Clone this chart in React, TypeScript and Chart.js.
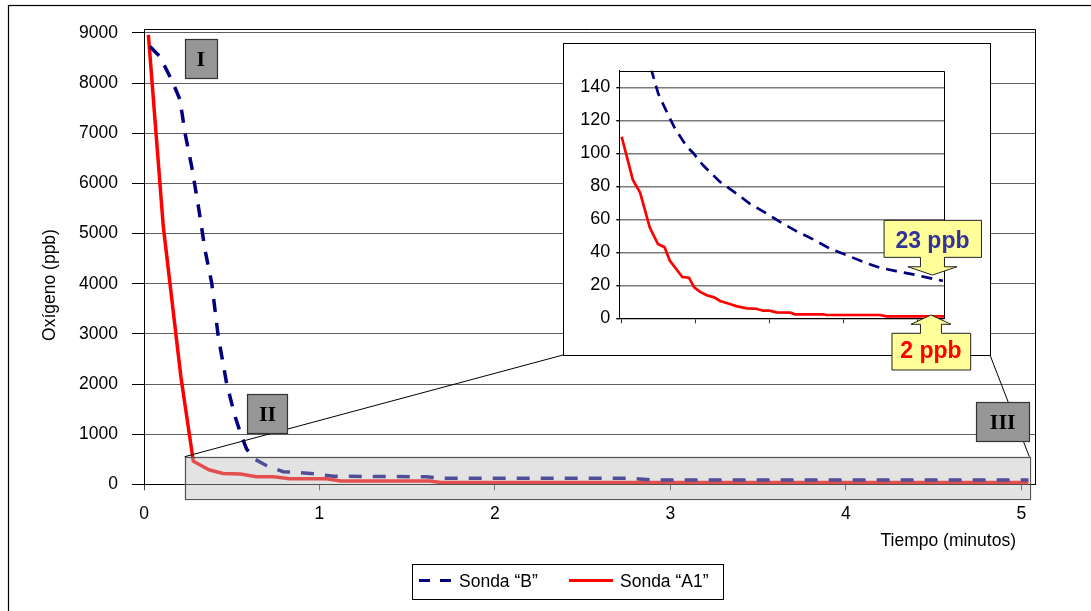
import React, { useEffect, useRef } from 'react';
import { Chart, registerables } from 'chart.js';

Chart.register(...registerables);

const FONT = '"Liberation Sans", Arial, sans-serif';
const SERIF = '"Liberation Serif", "Times New Roman", serif';

// ---------- data: main chart (time in minutes, oxygen in ppb) ----------
const seriesNames = ['Sonda “B”', 'Sonda “A1”'];

const timeB = [0.034, 0.09, 0.158, 0.205, 0.234, 0.272, 0.31, 0.348, 0.386, 0.423, 0.471, 0.519, 0.557, 0.585, 0.632, 0.699, 0.794, 0.889, 0.984, 1.08, 1.61, 1.69, 2.77, 2.9, 5.04];
const oxygenB = [8730, 8530, 8060, 7670, 7000, 6330, 5540, 4670, 4010, 2950, 2010, 1350, 950, 700, 500, 370, 251, 231, 205, 160, 150, 120, 120, 85, 85];

const timeA1 = [0.025, 0.11, 0.21, 0.281, 0.37, 0.45, 0.55, 0.64, 0.74, 0.83, 1.04, 1.12, 1.63, 1.69, 5.04];
const oxygenA1 = [8960, 5140, 2150, 460, 290, 215, 205, 150, 150, 110, 110, 66, 66, 35, 35];

const mainXTicks = [0, 1, 2, 3, 4, 5];
const mainYTicks = [0, 1000, 2000, 3000, 4000, 5000, 6000, 7000, 8000, 9000];

// ---------- data: inset (zoomed region) ----------
const insetTimeB = [0.33, 0.405, 0.495, 0.63, 0.72, 0.88, 0.97, 1.1, 1.33, 1.55, 1.73, 1.96, 2.14, 2.36, 2.59, 2.81, 3.04, 3.26, 3.49, 3.71, 3.94, 4.12, 4.34];
const insetOxygenB = [162, 150, 136, 123, 115, 104, 100, 92.7, 82.6, 75.6, 69.5, 63.5, 58.4, 52.8, 47.8, 42.3, 38.3, 34.2, 30.6, 28.6, 26.6, 24.8, 22.7];

const insetTimeA1 = [0, 0.15, 0.25, 0.38, 0.49, 0.58, 0.65, 0.82, 0.91, 0.98, 1.06, 1.15, 1.25, 1.33, 1.44, 1.55, 1.69, 1.82, 1.91, 2.0, 2.09, 2.28, 2.34, 2.72, 2.77, 3.49, 3.58, 4.36];
const insetOxygenA1 = [110, 84, 76, 55, 45, 43, 35, 25, 24.6, 18.7, 16, 14, 12.7, 10.5, 9, 7.4, 6, 5.8, 4.6, 4.6, 3.6, 3.4, 2.4, 2.4, 2, 2, 1.2, 1.2];

const insetXTicks = [0, 1, 2, 3, 4];
const insetYTicks = [0, 20, 40, 60, 80, 100, 120, 140];

// ---------- texts ----------
const xTitle = 'Tiempo (minutos)';
const yTitle = 'Oxígeno (ppb)';
const romanLabels = ['I', 'II', 'III'];
const calloutLabels = ['23 ppb', '2 ppb'];

// ---------- layout / annotation geometry ----------
const MAIN_X_MAX = 5.079;
const MAIN_Y_MAX = 9073;
const INSET_X_MIN = -0.032;
const INSET_X_MAX = 4.36;
const INSET_Y_MAX = 150;
const zoomRegion = { t0: 0.232, t1: 5.045, v0: -285, v1: 550 };
const insetPos = { left: 555, top: 35, width: 440, height: 345 };
const insetBox = { left: 563, top: 43, right: 990, bottom: 355 };
const romanPos = [
  { t: 0.3236, v: 8486, w: 32 },
  { t: 0.7037, v: 1412, w: 40 },
  { t: 4.893, v: 1246, w: 53 },
];
const calloutPos = [
  { t: 4.2, v: 26.2, dir: 'down', color: '#333399' },
  { t: 4.18, v: 2.0, dir: 'up', color: '#ff0000' },
];

const BLUE = '#000080';
const RED = '#ff0000';

const toXY = (xs: number[], ys: number[]) => xs.map((x, i) => ({ x, y: ys[i] }));
const fixedTicks = (values: number[]) => (s: any) => {
  s.ticks = values.map((value) => ({ value }));
};

const mainDecor = {
  id: 'mainDecor',
  afterDatasetsDraw(chart: any) {
    const { ctx, scales } = chart;
    const x = scales.x;
    const y = scales.y;
    ctx.save();
    // zoom rectangle
    const rx0 = x.getPixelForValue(zoomRegion.t0);
    const rx1 = x.getPixelForValue(zoomRegion.t1);
    const ry0 = y.getPixelForValue(zoomRegion.v1);
    const ry1 = y.getPixelForValue(zoomRegion.v0);
    ctx.fillStyle = 'rgba(189,189,189,0.42)';
    ctx.fillRect(rx0, ry0, rx1 - rx0, ry1 - ry0);
    ctx.strokeStyle = '#555';
    ctx.lineWidth = 1.2;
    ctx.strokeRect(Math.round(rx0) + 0.5, Math.round(ry0) + 0.5, Math.round(rx1 - rx0), Math.round(ry1 - ry0));
    // connectors to the inset box
    ctx.strokeStyle = '#000';
    ctx.lineWidth = 1;
    ctx.beginPath();
    ctx.moveTo(rx0, ry0);
    ctx.lineTo(insetBox.left, insetBox.bottom);
    ctx.moveTo(rx1, ry0);
    ctx.lineTo(insetBox.right, insetBox.bottom);
    ctx.stroke();
    // roman numeral boxes
    romanPos.forEach((p, i) => {
      const cx = x.getPixelForValue(p.t);
      const cy = y.getPixelForValue(p.v);
      const h = 39;
      const bx = Math.round(cx - p.w / 2) + 0.5;
      const by = Math.round(cy - h / 2) + 0.5;
      ctx.fillStyle = '#969696';
      ctx.fillRect(bx, by, p.w, h);
      ctx.strokeStyle = '#333';
      ctx.lineWidth = 1.2;
      ctx.strokeRect(bx, by, p.w, h);
      ctx.fillStyle = '#000';
      ctx.font = `bold 22px ${SERIF}`;
      ctx.textAlign = 'center';
      ctx.textBaseline = 'alphabetic';
      ctx.fillText(romanLabels[i], cx, cy + 7.5);
    });
    ctx.restore();
  },
  afterDraw(chart: any) {
    const { ctx, chartArea } = chart;
    ctx.save();
    // plot frame (top & right)
    ctx.strokeStyle = '#000';
    ctx.lineWidth = 1;
    const top = Math.round(chartArea.top) + 0.5;
    const right = Math.round(chartArea.right) + 0.5;
    ctx.beginPath();
    ctx.moveTo(chartArea.left, top);
    ctx.lineTo(right, top);
    ctx.lineTo(right, chartArea.bottom);
    ctx.stroke();
    // axis titles
    ctx.fillStyle = '#000';
    ctx.font = `17.5px ${FONT}`;
    ctx.textBaseline = 'alphabetic';
    ctx.textAlign = 'right';
    ctx.fillText(xTitle, 1016, 545.7);
    ctx.save();
    ctx.translate(54.6, 285);
    ctx.rotate(-Math.PI / 2);
    ctx.textAlign = 'center';
    ctx.fillText(yTitle, 0, 0);
    ctx.restore();
    // legend
    const lg = { x: 412.5, y: 564.5, w: 311, h: 35 };
    ctx.fillStyle = '#fff';
    ctx.fillRect(lg.x, lg.y, lg.w, lg.h);
    ctx.strokeStyle = '#000';
    ctx.lineWidth = 1;
    ctx.strokeRect(lg.x, lg.y, lg.w, lg.h);
    const ds = chart.data.datasets;
    const items = [
      { x0: 419, x1: 452, tx: 459 },
      { x0: 569, x1: 613, tx: 620 },
    ];
    items.forEach((it, i) => {
      const d = ds[i];
      ctx.strokeStyle = d.borderColor;
      ctx.lineWidth = 3;
      ctx.setLineDash(d.borderDash ? [11, 10] : []);
      ctx.beginPath();
      ctx.moveTo(it.x0, 580.5);
      ctx.lineTo(it.x1, 580.5);
      ctx.stroke();
      ctx.setLineDash([]);
      ctx.fillStyle = '#000';
      ctx.font = `17.5px ${FONT}`;
      ctx.textAlign = 'left';
      ctx.fillText(d.label, it.tx, 587.3);
    });
    // outer frame
    ctx.strokeStyle = '#000';
    ctx.lineWidth = 1.2;
    ctx.strokeRect(8.5, 5.5, 3000, 3000);
    ctx.restore();
  },
};

const insetDecor = {
  id: 'insetDecor',
  beforeDraw(chart: any) {
    const { ctx } = chart;
    ctx.save();
    const l = insetBox.left - insetPos.left + 0.5;
    const t = insetBox.top - insetPos.top + 0.5;
    ctx.fillStyle = '#fff';
    ctx.fillRect(l, t, insetBox.right - insetBox.left, insetBox.bottom - insetBox.top);
    ctx.strokeStyle = '#000';
    ctx.lineWidth = 1;
    ctx.strokeRect(l, t, insetBox.right - insetBox.left, insetBox.bottom - insetBox.top);
    ctx.restore();
  },
  afterDraw(chart: any) {
    const { ctx, chartArea, scales } = chart;
    const x = scales.x;
    const y = scales.y;
    ctx.save();
    ctx.strokeStyle = '#000';
    ctx.lineWidth = 1;
    const top = Math.round(chartArea.top) + 0.5;
    const right = Math.round(chartArea.right) + 0.5;
    ctx.beginPath();
    ctx.moveTo(chartArea.left, top);
    ctx.lineTo(right, top);
    ctx.lineTo(right, chartArea.bottom);
    ctx.stroke();

    calloutPos.forEach((c, i) => {
      const tx = x.getPixelForValue(c.t);
      const ty = y.getPixelForValue(c.v);
      ctx.beginPath();
      let textY: number;
      if (c.dir === 'down') {
        const bl = tx - 48.4, br = tx + 49, bt = ty - 54.7, bb = ty - 17.7;
        const hy = ty - 8.3;
        ctx.moveTo(bl, bt);
        ctx.lineTo(br, bt);
        ctx.lineTo(br, bb);
        ctx.lineTo(tx + 12, bb);
        ctx.lineTo(tx + 12, hy);
        ctx.lineTo(tx + 24.5, hy);
        ctx.lineTo(tx, ty);
        ctx.lineTo(tx - 24.5, hy);
        ctx.lineTo(tx - 12, hy);
        ctx.lineTo(tx - 12, bb);
        ctx.lineTo(bl, bb);
        ctx.closePath();
        textY = bt + 28;
      } else {
        const bl = tx - 39, br = tx + 39.7, bt = ty + 18.3, bb = ty + 55;
        const hy = ty + 9.3;
        ctx.moveTo(tx, ty);
        ctx.lineTo(tx + 20, hy);
        ctx.lineTo(tx + 10.5, hy);
        ctx.lineTo(tx + 10.5, bt);
        ctx.lineTo(br, bt);
        ctx.lineTo(br, bb);
        ctx.lineTo(bl, bb);
        ctx.lineTo(bl, bt);
        ctx.lineTo(tx - 10.5, bt);
        ctx.lineTo(tx - 10.5, hy);
        ctx.lineTo(tx - 20, hy);
        ctx.closePath();
        textY = bt + 25;
      }
      ctx.fillStyle = '#ffff99';
      ctx.fill();
      ctx.strokeStyle = '#222';
      ctx.lineWidth = 1;
      ctx.stroke();
      ctx.fillStyle = c.color;
      ctx.font = `bold 23px ${FONT}`;
      ctx.textAlign = 'center';
      ctx.textBaseline = 'alphabetic';
      ctx.fillText(calloutLabels[i], tx, textY);
    });
    ctx.restore();
  },
};

export default function App() {
  const mainRef = useRef<HTMLCanvasElement>(null);
  const insetRef = useRef<HTMLCanvasElement>(null);

  useEffect(() => {
    const main = new Chart(mainRef.current as HTMLCanvasElement, {
      type: 'line',
      data: {
        datasets: [
          {
            label: seriesNames[0],
            data: toXY(timeB, oxygenB),
            borderColor: BLUE,
            borderWidth: 3.5,
            borderDash: [13, 11],
            pointRadius: 0,
            fill: false,
            tension: 0,
          },
          {
            label: seriesNames[1],
            data: toXY(timeA1, oxygenA1),
            borderColor: RED,
            borderWidth: 3.5,
            pointRadius: 0,
            fill: false,
            tension: 0,
          },
        ],
      },
      options: {
        responsive: false,
        animation: false,
        devicePixelRatio: 1,
        events: [],
        layout: { padding: { left: 8, top: 29.3, right: 55.7, bottom: 86.7 } },
        plugins: { legend: { display: false }, tooltip: { enabled: false } },
        scales: {
          x: {
            type: 'linear',
            min: 0,
            max: MAIN_X_MAX,
            afterBuildTicks: fixedTicks(mainXTicks),
            ticks: {
              autoSkip: false,
              maxRotation: 0,
              color: '#000',
              padding: 13,
              font: { family: FONT, size: 17.5 },
              callback: (v: any) => String(v),
            },
            grid: { drawOnChartArea: false, drawTicks: true, tickLength: 6, tickColor: '#444', lineWidth: 1 },
            border: { display: true, color: '#000', width: 1 },
            afterFit: (s: any) => { s.height = 40; },
          },
          y: {
            type: 'linear',
            min: 0,
            max: MAIN_Y_MAX,
            afterBuildTicks: fixedTicks(mainYTicks),
            ticks: {
              autoSkip: false,
              color: '#000',
              padding: 14,
              font: { family: FONT, size: 17.5 },
              callback: (v: any) => String(v),
            },
            grid: { color: '#5f5f5f', tickColor: '#000', tickLength: 12, lineWidth: 1 },
            border: { display: true, color: '#000', width: 1 },
            afterFit: (s: any) => { s.width = 136; },
          },
        },
      } as any,
      plugins: [mainDecor],
    });

    const inset = new Chart(insetRef.current as HTMLCanvasElement, {
      type: 'line',
      data: {
        datasets: [
          {
            label: seriesNames[0],
            data: toXY(insetTimeB, insetOxygenB),
            borderColor: BLUE,
            borderWidth: 2.7,
            borderDash: [11, 7],
            pointRadius: 0,
            fill: false,
            tension: 0,
          },
          {
            label: seriesNames[1],
            data: toXY(insetTimeA1, insetOxygenA1),
            borderColor: RED,
            borderWidth: 2.7,
            pointRadius: 0,
            fill: false,
            tension: 0,
          },
        ],
      },
      options: {
        responsive: false,
        animation: false,
        devicePixelRatio: 1,
        events: [],
        layout: { padding: { left: 10, top: 35.7, right: 50.7, bottom: 51.7 } },
        plugins: { legend: { display: false }, tooltip: { enabled: false } },
        scales: {
          x: {
            type: 'linear',
            min: INSET_X_MIN,
            max: INSET_X_MAX,
            afterBuildTicks: fixedTicks(insetXTicks),
            ticks: { display: false },
            grid: { drawOnChartArea: false, drawTicks: true, tickLength: 5, tickColor: '#333', lineWidth: 1 },
            border: { display: true, color: '#000', width: 1 },
            afterFit: (s: any) => { s.height = 10; },
          },
          y: {
            type: 'linear',
            min: 0,
            max: INSET_Y_MAX,
            afterBuildTicks: fixedTicks(insetYTicks),
            ticks: {
              autoSkip: false,
              color: '#000',
              padding: 6,
              font: { family: FONT, size: 18 },
              callback: (v: any) => String(v),
            },
            grid: { color: '#7a7a7a', tickColor: '#000', tickLength: 3, lineWidth: 1.4 },
            border: { display: true, color: '#000', width: 1 },
            afterFit: (s: any) => { s.width = 54.3; },
          },
        },
      } as any,
      plugins: [insetDecor],
    });

    return () => {
      main.destroy();
      inset.destroy();
    };
  }, []);

  return (
    <div style={{ position: 'absolute', left: 0, top: 0, width: 1091, height: 611, background: '#fff', overflow: 'hidden' }}>
      <canvas ref={mainRef} width={1091} height={611} style={{ position: 'absolute', left: 0, top: 0 }} />
      <canvas
        ref={insetRef}
        width={insetPos.width}
        height={insetPos.height}
        style={{ position: 'absolute', left: insetPos.left, top: insetPos.top }}
      />
    </div>
  );
}
